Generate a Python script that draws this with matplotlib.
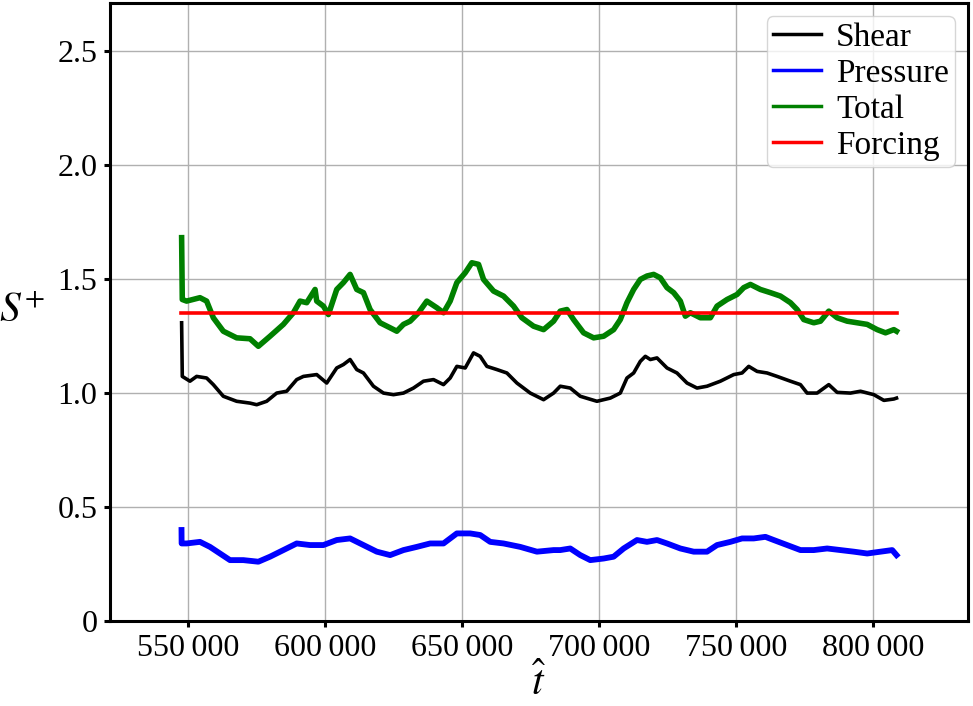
import numpy as np
import matplotlib.pyplot as plt
from matplotlib.ticker import FuncFormatter

# values
t_shear = [547690, 547930, 550730, 553160, 556810, 559250, 562900, 567760, 572630, 575060,
           578710, 582370, 586010, 589660, 592100, 596960, 600610, 604260, 606700, 609130,
           611560, 614000, 617650, 621300, 624950, 628600, 632250, 635900, 639550, 643200,
           645630, 648070, 651110, 654150, 656580, 659020, 662670, 666320, 669970, 674840,
           679700, 683350, 685780, 689430, 693080, 699160, 704030, 707680, 710110, 712550,
           714980, 716810, 718630, 721060, 724710, 728360, 732010, 735660, 739310, 744180,
           749050, 752090, 754520, 757560, 761220, 764870, 769730, 773380, 775810, 779460,
           783720, 786770, 791630, 795280, 800150, 803800, 807450, 808420]
s_shear = [1.308, 1.073, 1.052, 1.073, 1.066, 1.037, 0.986, 0.964, 0.956, 0.949,
           0.964, 1.000, 1.008, 1.059, 1.073, 1.081, 1.044, 1.110, 1.125, 1.147,
           1.103, 1.088, 1.030, 1.000, 0.993, 1.000, 1.022, 1.052, 1.059, 1.037,
           1.066, 1.117, 1.110, 1.176, 1.161, 1.117, 1.103, 1.088, 1.044, 1.000,
           0.971, 1.000, 1.030, 1.022, 0.986, 0.964, 0.978, 1.000, 1.066, 1.088,
           1.139, 1.161, 1.147, 1.154, 1.110, 1.088, 1.044, 1.022, 1.030, 1.052,
           1.081, 1.088, 1.117, 1.095, 1.088, 1.073, 1.052, 1.037, 1.000, 1.000,
           1.037, 1.003, 1.000, 1.008, 0.993, 0.968, 0.974, 0.978]

t_pressure = [547650, 547690, 549510, 554380, 558030, 561680, 565330, 570200, 575670, 579930,
              584800, 589660, 594530, 599400, 604260, 609130, 614000, 618870, 623730, 628600,
              633470, 638330, 643200, 648070, 652930, 656580, 660230, 665100, 671180, 677270,
              683350, 685780, 689430, 693080, 696730, 701600, 705250, 708900, 713770, 717410,
              721060, 724710, 729580, 734450, 739310, 742960, 747830, 752090, 756350, 760610,
              763650, 768520, 773380, 778250, 783120, 787980, 792850, 797720, 802590, 806850,
              808420]
s_pressure = [0.400, 0.341, 0.341, 0.348, 0.326, 0.297, 0.268, 0.268, 0.261, 0.283,
              0.312, 0.341, 0.334, 0.334, 0.356, 0.363, 0.334, 0.305, 0.290, 0.312,
              0.326, 0.341, 0.341, 0.385, 0.385, 0.378, 0.348, 0.341, 0.326, 0.305,
              0.312, 0.312, 0.319, 0.290, 0.268, 0.275, 0.283, 0.319, 0.356, 0.348,
              0.356, 0.341, 0.319, 0.305, 0.305, 0.334, 0.348, 0.363, 0.363, 0.370,
              0.356, 0.334, 0.312, 0.312, 0.319, 0.312, 0.305, 0.297, 0.305, 0.312,
              0.290]

t_total = [547690, 547930, 549510, 554380, 556810, 559250, 562900, 567760, 572630, 575670,
           579930, 584800, 588450, 590880, 593320, 596360, 596960, 599400, 601220, 604260,
           606700, 609130, 611560, 614000, 616430, 620080, 623730, 626170, 628600, 631030,
           634080, 637120, 640770, 643200, 645630, 648070, 651110, 653540, 655980, 657800,
           661450, 665100, 668750, 671790, 676050, 679700, 683350, 685780, 688210, 690650,
           694300, 697950, 701600, 705250, 707680, 710110, 712550, 714980, 717410, 719850,
           722280, 724710, 727150, 729580, 731410, 733230, 736880, 740530, 742960, 746610,
           750260, 752700, 755130, 758780, 762430, 766080, 769730, 772160, 774600, 778250,
           780680, 783720, 786770, 790420, 794070, 797720, 801370, 804410, 807450, 808420]
s_total = [1.681, 1.410, 1.403, 1.418, 1.403, 1.330, 1.271, 1.242, 1.238, 1.205,
           1.249, 1.301, 1.352, 1.403, 1.396, 1.454, 1.403, 1.381, 1.344, 1.454,
           1.484, 1.520, 1.454, 1.440, 1.366, 1.308, 1.286, 1.271, 1.301, 1.315,
           1.352, 1.403, 1.374, 1.352, 1.403, 1.484, 1.527, 1.571, 1.564, 1.498,
           1.447, 1.425, 1.381, 1.330, 1.293, 1.278, 1.315, 1.359, 1.366, 1.322,
           1.264, 1.242, 1.249, 1.278, 1.322, 1.396, 1.454, 1.498, 1.513, 1.520,
           1.505, 1.462, 1.440, 1.403, 1.337, 1.352, 1.330, 1.330, 1.381, 1.410,
           1.432, 1.462, 1.476, 1.454, 1.440, 1.425, 1.396, 1.366, 1.322, 1.308,
           1.315, 1.359, 1.330, 1.315, 1.308, 1.301, 1.278, 1.264, 1.278, 1.271]

t_forcing = [547300, 808600]
s_forcing = [1.352, 1.352]

x_ticks = [550000, 600000, 650000, 700000, 750000, 800000]
y_ticks = [0, 0.5, 1.0, 1.5, 2.0, 2.5]
y_ticklabels = ['0', '0.5', '1.0', '1.5', '2.0', '2.5']

plt.rcParams['font.family'] = ['Liberation Serif', 'DejaVu Serif']
plt.rcParams['mathtext.fontset'] = 'stix'

fig = plt.figure(figsize=(9.73, 7.06), dpi=100)
ax = fig.add_axes([0.113, 0.120, 0.882, 0.876])

ax.plot(t_shear, s_shear, c='black', lw=2.6, label='Shear', zorder=3)
ax.plot(t_pressure, s_pressure, c='blue', lw=4.2, label='Pressure', zorder=3)
ax.plot(t_total, s_total, c='green', lw=4.0, label='Total', zorder=3)
ax.plot(t_forcing, s_forcing, c='red', lw=2.6, label='Forcing', zorder=4)

ax.set_xlim(521550, 834540)
ax.set_ylim(0, 2.71)
ax.set_xticks(x_ticks)
ax.xaxis.set_major_formatter(FuncFormatter(lambda v, p: '{:,.0f}'.format(v).replace(',', '\u2009')))
ax.set_yticks(y_ticks)
ax.set_yticklabels(y_ticklabels)
ax.tick_params(labelsize=23, width=2.2, length=4, pad=5)
ax.grid(True, color='#b0b0b0', lw=1.0)
ax.set_axisbelow(True)
for sp in ax.spines.values():
    sp.set_linewidth(2.2)

ax.set_xlabel(r'$\hat{t}$', fontsize=30, va='center')
ax.xaxis.set_label_coords(0.5, -0.102)
ax.set_ylabel(r'$S^{+}$', fontsize=30, rotation=0, ha='center', va='center')
ax.yaxis.set_label_coords(-0.102, 0.5)

leg = ax.legend(loc='upper right', fontsize=24, labelspacing=0.17, handlelength=1.45,
                handletextpad=0.45, borderpad=0.18, borderaxespad=0.4, fancybox=True)
for line in leg.get_lines():
    line.set_linewidth(2.5)

fig.savefig('out.png', dpi=100)
